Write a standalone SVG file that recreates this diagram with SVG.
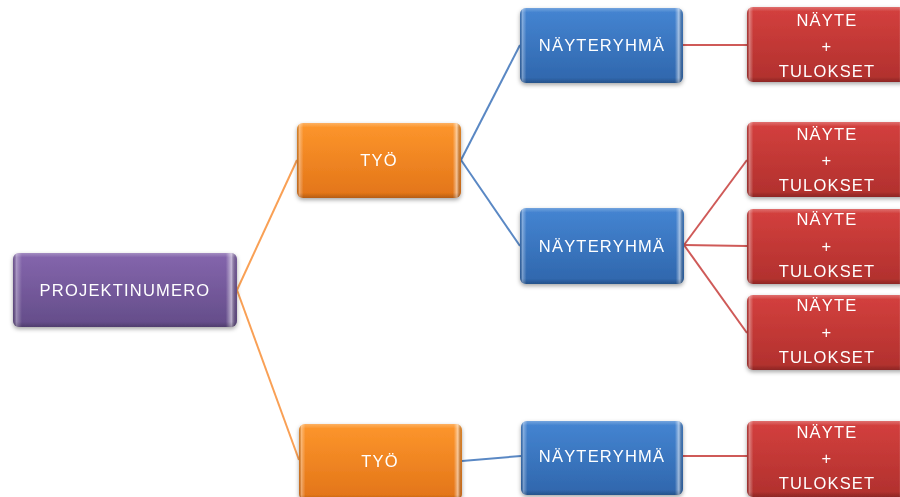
<svg xmlns="http://www.w3.org/2000/svg" width="900" height="497" viewBox="0 0 900 497">
<defs>
<linearGradient id="gPurple" x1="0" y1="0" x2="0" y2="1"><stop offset="0" stop-color="#8566ad"/><stop offset="1" stop-color="#634c88"/></linearGradient>
<linearGradient id="gOrange" x1="0" y1="0" x2="0" y2="1"><stop offset="0" stop-color="#fd962c"/><stop offset="1" stop-color="#e27418"/></linearGradient>
<linearGradient id="gBlue" x1="0" y1="0" x2="0" y2="1"><stop offset="0" stop-color="#4585d2"/><stop offset="1" stop-color="#2f66ac"/></linearGradient>
<linearGradient id="gRed" x1="0" y1="0" x2="0" y2="1"><stop offset="0" stop-color="#d4403e"/><stop offset="1" stop-color="#b0302d"/></linearGradient>
<linearGradient id="gBevel" x1="0" y1="0" x2="1" y2="0">
<stop offset="0" stop-color="#000" stop-opacity="0.15"/>
<stop offset="0.015" stop-color="#fff" stop-opacity="0.35"/>
<stop offset="0.04" stop-color="#fff" stop-opacity="0"/>
<stop offset="0.95" stop-color="#fff" stop-opacity="0"/>
<stop offset="0.975" stop-color="#fff" stop-opacity="0.55"/>
<stop offset="1" stop-color="#000" stop-opacity="0.1"/>
</linearGradient>
<linearGradient id="gTop" x1="0" y1="0" x2="0" y2="1">
<stop offset="0" stop-color="#fff" stop-opacity="0.25"/>
<stop offset="0.06" stop-color="#fff" stop-opacity="0"/>
<stop offset="0.93" stop-color="#000" stop-opacity="0"/>
<stop offset="1" stop-color="#000" stop-opacity="0.2"/>
</linearGradient>
<filter id="sh" x="-10%" y="-20%" width="120%" height="150%"><feDropShadow dx="0" dy="2" stdDeviation="2" flood-color="#000" flood-opacity="0.35"/></filter>
<style>
.t{font-family:"Liberation Sans",Arial,sans-serif;font-size:16.5px;fill:#fff;text-anchor:middle;letter-spacing:1.2px}
.or{stroke:#f9a055;stroke-width:2;fill:none}
.bl{stroke:#5a88c4;stroke-width:2;fill:none}
.rd{stroke:#cf5a58;stroke-width:2;fill:none}
.bev{fill:url(#gBevel)}
.top{fill:url(#gTop)}
</style>
</defs>
<g id="connectors">
<path class="or" d="M237,290 L297,160"/>
<path class="or" d="M237,290 L299,460"/>
<path class="bl" d="M461,160 L520,45"/>
<path class="bl" d="M461,160 L520,246"/>
<path class="bl" d="M462,461 L521,456"/>
<path class="rd" d="M683,45 L747,45"/>
<path class="rd" d="M684,245 L747,160"/>
<path class="rd" d="M684,245 L747,246"/>
<path class="rd" d="M684,245 L747,333"/>
<path class="rd" d="M682,456 L747,456"/>
</g>
<g id="projektinumero" filter="url(#sh)">
<rect x="13" y="253" width="224" height="74" rx="6" fill="url(#gPurple)"/>
<rect x="13" y="253" width="224" height="74" rx="6" class="bev"/>
<rect x="13" y="253" width="224" height="74" rx="6" class="top"/>
<text class="t" x="125" y="296">PROJEKTINUMERO</text>
</g>
<g id="tyo1" filter="url(#sh)">
<rect x="297" y="123" width="164" height="75" rx="6" fill="url(#gOrange)"/>
<rect x="297" y="123" width="164" height="75" rx="6" class="bev"/>
<rect x="297" y="123" width="164" height="75" rx="6" class="top"/>
<text class="t" x="379" y="166">TYÖ</text>
</g>
<g id="tyo2" filter="url(#sh)">
<rect x="299" y="424" width="163" height="76" rx="6" fill="url(#gOrange)"/>
<rect x="299" y="424" width="163" height="76" rx="6" class="bev"/>
<rect x="299" y="424" width="163" height="76" rx="6" class="top"/>
<text class="t" x="380" y="467">TYÖ</text>
</g>
<g id="nayteryhma1" filter="url(#sh)">
<rect x="520" y="8" width="163" height="75" rx="6" fill="url(#gBlue)"/>
<rect x="520" y="8" width="163" height="75" rx="6" class="bev"/>
<rect x="520" y="8" width="163" height="75" rx="6" class="top"/>
<text class="t" x="602" y="51">NÄYTERYHMÄ</text>
</g>
<g id="nayteryhma2" filter="url(#sh)">
<rect x="520" y="208" width="164" height="76" rx="6" fill="url(#gBlue)"/>
<rect x="520" y="208" width="164" height="76" rx="6" class="bev"/>
<rect x="520" y="208" width="164" height="76" rx="6" class="top"/>
<text class="t" x="602" y="252">NÄYTERYHMÄ</text>
</g>
<g id="nayteryhma3" filter="url(#sh)">
<rect x="521" y="421" width="162" height="74" rx="6" fill="url(#gBlue)"/>
<rect x="521" y="421" width="162" height="74" rx="6" class="bev"/>
<rect x="521" y="421" width="162" height="74" rx="6" class="top"/>
<text class="t" x="602" y="462">NÄYTERYHMÄ</text>
</g>
<g id="nayte1" filter="url(#sh)">
<rect x="747" y="7" width="160" height="75" rx="6" fill="url(#gRed)"/>
<rect x="747" y="7" width="160" height="75" rx="6" class="bev"/>
<rect x="747" y="7" width="160" height="75" rx="6" class="top"/>
<text class="t" x="827" y="26">NÄYTE</text>
<text class="t" x="827" y="52">+</text>
<text class="t" x="827" y="77">TULOKSET</text>
</g>
<g id="nayte2" filter="url(#sh)">
<rect x="747" y="122" width="160" height="75" rx="6" fill="url(#gRed)"/>
<rect x="747" y="122" width="160" height="75" rx="6" class="bev"/>
<rect x="747" y="122" width="160" height="75" rx="6" class="top"/>
<text class="t" x="827" y="140">NÄYTE</text>
<text class="t" x="827" y="166">+</text>
<text class="t" x="827" y="191">TULOKSET</text>
</g>
<g id="nayte3" filter="url(#sh)">
<rect x="747" y="209" width="160" height="75" rx="6" fill="url(#gRed)"/>
<rect x="747" y="209" width="160" height="75" rx="6" class="bev"/>
<rect x="747" y="209" width="160" height="75" rx="6" class="top"/>
<text class="t" x="827" y="225">NÄYTE</text>
<text class="t" x="827" y="252">+</text>
<text class="t" x="827" y="277">TULOKSET</text>
</g>
<g id="nayte4" filter="url(#sh)">
<rect x="747" y="295" width="160" height="75" rx="6" fill="url(#gRed)"/>
<rect x="747" y="295" width="160" height="75" rx="6" class="bev"/>
<rect x="747" y="295" width="160" height="75" rx="6" class="top"/>
<text class="t" x="827" y="311">NÄYTE</text>
<text class="t" x="827" y="338">+</text>
<text class="t" x="827" y="363">TULOKSET</text>
</g>
<g id="nayte5" filter="url(#sh)">
<rect x="747" y="421" width="160" height="76" rx="6" fill="url(#gRed)"/>
<rect x="747" y="421" width="160" height="76" rx="6" class="bev"/>
<rect x="747" y="421" width="160" height="76" rx="6" class="top"/>
<text class="t" x="827" y="438">NÄYTE</text>
<text class="t" x="827" y="464">+</text>
<text class="t" x="827" y="489">TULOKSET</text>
</g>
</svg>
